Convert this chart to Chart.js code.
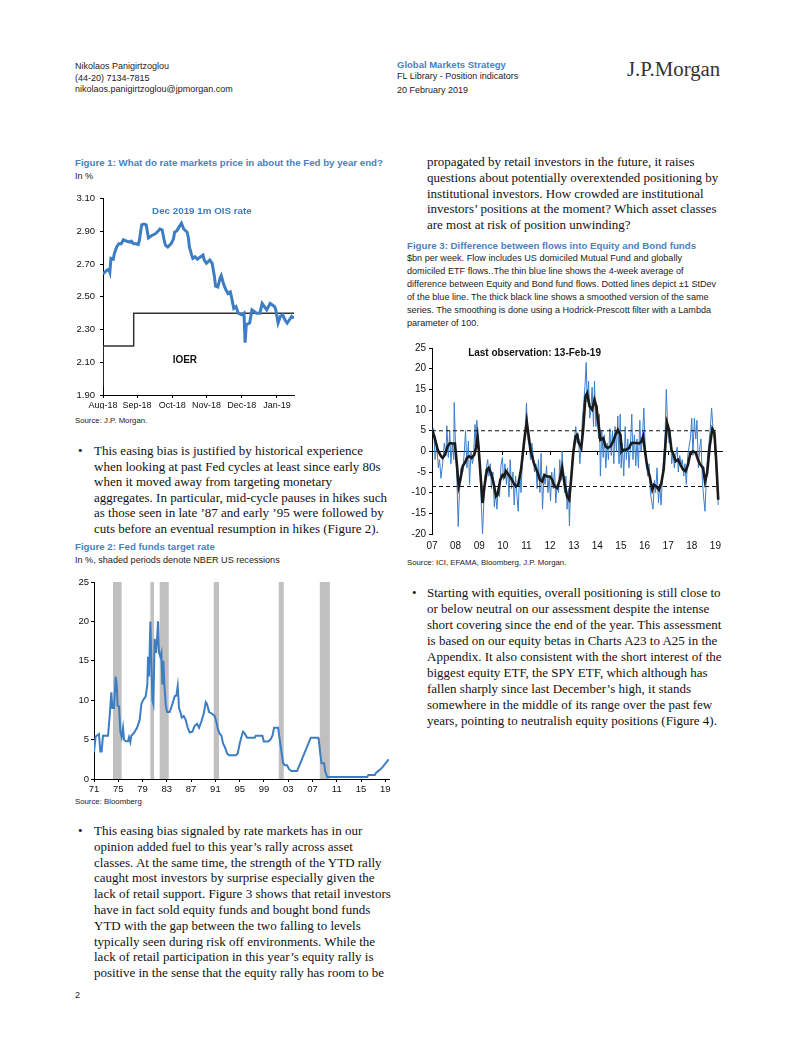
<!DOCTYPE html>
<html>
<head>
<meta charset="utf-8">
<script src="https://cdn.jsdelivr.net/npm/chart.js@4.4.1/dist/chart.umd.min.js"></script>
<style>
body{margin:0;background:#fff;width:802px;height:1037px;position:relative;overflow:hidden;}
.t{position:absolute;white-space:nowrap;}
.hd{font-family:"Liberation Sans",Arial,sans-serif;font-size:9px;line-height:11.5px;color:#222;}
.ttl{font-family:"Liberation Sans",Arial,sans-serif;font-weight:bold;font-size:9.7px;line-height:13px;color:#4b81bf;}
.sub{font-family:"Liberation Sans",Arial,sans-serif;font-size:9.1px;line-height:13.1px;color:#222;}
.src{font-family:"Liberation Sans",Arial,sans-serif;font-size:7.8px;line-height:10px;color:#222;}
.body{font-family:"Liberation Serif","Times New Roman",serif;font-size:13px;line-height:15.8px;color:#111;}
canvas{position:absolute;}
</style>
</head>
<body>
<div class="t hd" style="left:75px;top:61px;">Nikolaos Panigirtzoglou<br>(44-20) 7134-7815<br>nikolaos.panigirtzoglou@jpmorgan.com</div>
<div class="t ttl" style="left:397px;top:58px;font-size:9.5px;">Global Markets Strategy</div>
<div class="t hd" style="left:397px;top:71px;">FL Library - Position indicators</div>
<div class="t hd" style="left:397px;top:85px;">20 February 2019</div>
<div class="t" style="left:627px;top:57px;font-family:'Liberation Serif',serif;font-size:20.8px;color:#333;">J.P.Morgan</div>

<div class="t ttl" style="left:75px;top:156px;">Figure 1: What do rate markets price in about the Fed by year end?</div>
<div class="t sub" style="left:75px;top:170px;">In %</div>
<canvas id="fig1" width="250" height="225" style="left:60px;top:188px;"></canvas>
<div class="t src" style="left:75px;top:416px;">Source: J.P. Morgan.</div>

<div class="t body" style="left:78px;top:443px;line-height:15.5px;">•</div>
<div class="t body" style="left:94px;top:443px;line-height:15.5px;">This easing bias is justified by historical experience<br>when looking at past Fed cycles at least since early 80s<br>when it moved away from targeting monetary<br>aggregates. In particular, mid-cycle pauses in hikes such<br>as those seen in late ’87 and early ’95 were followed by<br>cuts before an eventual resumption in hikes (Figure 2).</div>

<div class="t ttl" style="left:75px;top:540px;">Figure 2: Fed funds target rate</div>
<div class="t sub" style="left:75px;top:554px;">In %, shaded periods denote NBER US recessions</div>
<canvas id="fig2" width="340" height="223" style="left:60px;top:572px;"></canvas>
<div class="t src" style="left:75px;top:797px;">Source: Bloomberg</div>

<div class="t body" style="left:78px;top:823px;">•</div>
<div class="t body" style="left:94px;top:823px;">This easing bias signaled by rate markets has in our<br>opinion added fuel to this year’s rally across asset<br>classes. At the same time, the strength of the YTD rally<br>caught most investors by surprise especially given the<br>lack of retail support. Figure 3 shows that retail investors<br>have in fact sold equity funds and bought bond funds<br>YTD with the gap between the two falling to levels<br>typically seen during risk off environments. While the<br>lack of retail participation in this year’s equity rally is<br>positive in the sense that the equity rally has room to be</div>
<div class="t hd" style="left:75px;top:990px;">2</div>

<div class="t body" style="left:427px;top:154px;">propagated by retail investors in the future, it raises<br>questions about potentially overextended positioning by<br>institutional investors. How crowded are institutional<br>investors’ positions at the moment? Which asset classes<br>are most at risk of position unwinding?</div>

<div class="t ttl" style="left:407px;top:239px;">Figure 3: Difference between flows into Equity and Bond funds</div>
<div class="t sub" style="left:407px;top:252px;">$bn per week. Flow includes US domiciled Mutual Fund and globally<br>domiciled ETF flows..The thin blue line shows the 4-week average of<br>difference between Equity and Bond fund flows. Dotted lines depict ±1 StDev<br>of the blue line. The thick black line shows a smoothed version of the same<br>series. The smoothing is done using a Hodrick-Prescott filter with a Lambda<br>parameter of 100.</div>
<canvas id="fig3" width="330" height="216" style="left:400px;top:338px;"></canvas>
<div class="t src" style="left:407px;top:558px;">Source: ICI, EFAMA, Bloomberg, J.P. Morgan.</div>

<div class="t body" style="left:412px;top:585px;line-height:16px;">•</div>
<div class="t body" style="left:427px;top:585px;line-height:16px;">Starting with equities, overall positioning is still close to<br>or below neutral on our assessment despite the intense<br>short covering since the end of the year. This assessment<br>is based on our equity betas in Charts A23 to A25 in the<br>Appendix. It also consistent with the short interest of the<br>biggest equity ETF, the SPY ETF, which although has<br>fallen sharply since last December’s high, it stands<br>somewhere in the middle of its range over the past few<br>years, pointing to neutralish equity positions (Figure 4).</div>

<script>
// ---- Figure 1: Dec 2019 1m OIS rate vs IOER (days counted from 31-Aug-18)
const oisDay = [0, 3, 5, 6, 7, 9, 10, 12, 14, 16, 18, 21, 24, 25, 27, 29, 31, 32, 34, 36, 38, 40, 43, 46, 49, 50, 52, 54, 55, 57, 60, 62, 63, 65, 68, 69, 71, 74, 75, 76, 78, 79, 81, 83, 85, 88, 89, 91, 94, 96, 98, 99, 101, 103, 104, 106, 108, 110, 112, 113, 115, 117, 119, 122, 124, 125, 126, 129, 131, 133, 135, 138, 140, 142, 144, 147, 149, 151, 152, 154, 156, 158, 160, 162, 164, 166, 168];
const oisRate = [2.64, 2.66, 2.67, 2.65, 2.735, 2.73, 2.765, 2.805, 2.825, 2.825, 2.85, 2.84, 2.835, 2.84, 2.825, 2.825, 2.82, 2.845, 2.94, 2.945, 2.94, 2.86, 2.875, 2.885, 2.905, 2.915, 2.91, 2.84, 2.815, 2.805, 2.825, 2.855, 2.895, 2.905, 2.94, 2.95, 2.915, 2.895, 2.865, 2.805, 2.755, 2.735, 2.745, 2.73, 2.74, 2.755, 2.725, 2.705, 2.725, 2.705, 2.625, 2.565, 2.56, 2.615, 2.63, 2.58, 2.545, 2.52, 2.53, 2.50, 2.43, 2.44, 2.40, 2.39, 2.40, 2.22, 2.33, 2.34, 2.42, 2.41, 2.40, 2.40, 2.46, 2.44, 2.42, 2.46, 2.45, 2.44, 2.42, 2.34, 2.38, 2.39, 2.36, 2.34, 2.36, 2.38, 2.37];
const ioerDay = [0, 27, 111, 168];
const ioerRate = [1.95, 2.20, 2.40, 2.40];
const fig1MonthDays = [0, 30, 61, 91, 122, 153];
const fig1MonthLabels = ['Aug-18', 'Sep-18', 'Oct-18', 'Nov-18', 'Dec-18', 'Jan-19'];
const fig1YTicks = [1.90, 2.10, 2.30, 2.50, 2.70, 2.90, 3.10];

// ---- Figure 2: Fed funds target rate and NBER recessions
const ffYear = [1971.00, 1971.27, 1971.82, 1972.04, 1972.26, 1972.48, 1973.31, 1973.58, 1973.86, 1974.02, 1974.30, 1974.57, 1974.74, 1974.90, 1975.12, 1975.34, 1975.56, 1975.78, 1975.95, 1976.22, 1976.60, 1976.77, 1976.99, 1977.15, 1977.54, 1978.09, 1978.53, 1978.80, 1979.08, 1979.52, 1979.79, 1979.90, 1980.07, 1980.29, 1980.45, 1980.62, 1980.78, 1981.00, 1981.22, 1981.38, 1981.55, 1981.71, 1981.93, 1982.10, 1982.26, 1982.43, 1982.59, 1982.81, 1983.03, 1983.47, 1983.91, 1984.30, 1984.57, 1984.79, 1985.01, 1985.23, 1985.45, 1985.78, 1986.11, 1986.44, 1986.77, 1987.21, 1987.59, 1987.98, 1988.31, 1988.69, 1989.08, 1989.41, 1989.63, 1989.96, 1990.51, 1990.89, 1991.16, 1991.44, 1991.71, 1991.99, 1992.26, 1992.59, 1992.92, 1993.25, 1994.35, 1994.68, 1995.01, 1995.34, 1995.56, 1995.84, 1996.22, 1997.48, 1997.65, 1998.75, 1998.97, 1999.68, 2000.07, 2000.40, 2000.67, 2001.33, 2001.60, 2001.88, 2002.15, 2002.43, 2002.81, 2003.14, 2003.53, 2004.46, 2006.71, 2007.92, 2008.03, 2008.31, 2008.48, 2008.92, 2009.08, 2009.41, 2016.00, 2016.22, 2017.26, 2017.43, 2017.81, 2018.20, 2018.53, 2018.80, 2019.02, 2019.29, 2019.56];
const ffRate = [3.4, 5.4, 5.7, 3.5, 3.5, 5.5, 5.5, 8, 11, 9, 9, 13, 12, 9.3, 9.2, 6, 5.3, 6.5, 5, 4.8, 4.8, 5.3, 4.7, 5.5, 5.8, 6.5, 7.5, 9.5, 10, 10.5, 12, 15.5, 13, 20, 15, 10, 9.5, 17.8, 16, 17.5, 20, 16, 15.5, 16, 12, 15, 12, 9.5, 8.5, 8.5, 9.5, 10.5, 10.6, 11.8, 9, 8.5, 7.8, 8, 7.5, 6.5, 5.9, 6, 6.75, 7, 6.5, 7.3, 8.3, 9.75, 9.5, 8.5, 8.25, 8, 7.25, 6.25, 5.75, 5.5, 4.5, 4, 3.25, 3, 3, 3.25, 4.5, 5.5, 6, 5.75, 5.25, 5.25, 5.5, 5.5, 4.75, 4.75, 5, 5.5, 6.5, 6.5, 5, 3.5, 2, 1.75, 1.75, 1.25, 1, 1, 5.25, 5.25, 5.0, 3.0, 2.0, 2.0, 1.0, 0.25, 0.25, 0.5, 0.5, 0.75, 1.0, 1.25, 1.5, 1.75, 2.0, 2.25, 2.5];
const recessionStart = [1974.13, 1980.29, 1981.82, 1990.73, 2001.44, 2008.20];
const recessionEnd = [1975.56, 1980.89, 1983.31, 1991.60, 2002.26, 2009.85];
const fig2YearTicks = [1971, 1975, 1979, 1983, 1987, 1991, 1995, 1999, 2003, 2007, 2011, 2015, 2019];
const fig2YearLabels = ['71', '75', '79', '83', '87', '91', '95', '99', '03', '07', '11', '15', '19'];
const fig2YTicks = [0, 5, 10, 15, 20, 25];

// ---- Figure 3: equity minus bond fund flows, $bn per week
const flowYear = [2007.00, 2007.07, 2007.13, 2007.20, 2007.27, 2007.32, 2007.38, 2007.45, 2007.52, 2007.59, 2007.63, 2007.69, 2007.75, 2007.80, 2007.86, 2007.92, 2007.94, 2008.00, 2008.06, 2008.11, 2008.16, 2008.23, 2008.30, 2008.37, 2008.42, 2008.48, 2008.54, 2008.59, 2008.65, 2008.71, 2008.76, 2008.82, 2008.86, 2008.90, 2008.96, 2009.02, 2009.07, 2009.14, 2009.19, 2009.24, 2009.30, 2009.36, 2009.41, 2009.47, 2009.52, 2009.58, 2009.64, 2009.69, 2009.75, 2009.81, 2009.86, 2009.92, 2009.98, 2010.03, 2010.09, 2010.15, 2010.20, 2010.26, 2010.31, 2010.37, 2010.43, 2010.48, 2010.54, 2010.60, 2010.65, 2010.71, 2010.77, 2010.82, 2010.88, 2010.94, 2010.97, 2011.00, 2011.06, 2011.12, 2011.17, 2011.23, 2011.28, 2011.34, 2011.40, 2011.45, 2011.51, 2011.57, 2011.62, 2011.68, 2011.74, 2011.79, 2011.85, 2011.91, 2011.96, 2012.02, 2012.07, 2012.13, 2012.19, 2012.24, 2012.30, 2012.36, 2012.41, 2012.47, 2012.51, 2012.55, 2012.61, 2012.67, 2012.72, 2012.78, 2012.82, 2012.86, 2012.92, 2012.98, 2013.03, 2013.09, 2013.15, 2013.20, 2013.26, 2013.32, 2013.37, 2013.43, 2013.48, 2013.53, 2013.57, 2013.63, 2013.68, 2013.72, 2013.78, 2013.84, 2013.88, 2013.94, 2014.00, 2014.05, 2014.09, 2014.13, 2014.19, 2014.25, 2014.30, 2014.36, 2014.42, 2014.47, 2014.53, 2014.59, 2014.64, 2014.70, 2014.75, 2014.81, 2014.87, 2014.92, 2014.97, 2015.01, 2015.06, 2015.12, 2015.18, 2015.23, 2015.29, 2015.34, 2015.40, 2015.46, 2015.51, 2015.57, 2015.63, 2015.68, 2015.74, 2015.80, 2015.85, 2015.91, 2015.97, 2016.02, 2016.08, 2016.13, 2016.19, 2016.25, 2016.30, 2016.36, 2016.42, 2016.47, 2016.53, 2016.59, 2016.64, 2016.70, 2016.76, 2016.81, 2016.87, 2016.92, 2016.98, 2017.04, 2017.09, 2017.15, 2017.21, 2017.26, 2017.32, 2017.38, 2017.43, 2017.49, 2017.55, 2017.60, 2017.66, 2017.71, 2017.77, 2017.83, 2017.88, 2017.94, 2018.00, 2018.05, 2018.11, 2018.17, 2018.22, 2018.28, 2018.34, 2018.39, 2018.45, 2018.50, 2018.56, 2018.62, 2018.67, 2018.73, 2018.79, 2018.84, 2018.90, 2018.96, 2019.01, 2019.07, 2019.12];
const flowValue = [5.2, 5.5, -2, 1.5, -4, -2, -6.5, -3, 2, -1, 6.2, -1.5, 5, -3, 2, -2, 11.8, 1, -8, -18.2, -10, -4, -5, 0, 5, -4, 2.5, -8, 0, -3, -1.5, 6.5, 2, 7.5, 1, -3, -10, -20, -13, -6, -4, -2, -6, -3, -9, -5, -13.5, -10, -14, -8, -11, -3.5, -1.5, -7, -3, -8, -4, -11, -2, -9, -5, -13, -6, -11, -14.5, -5, -10, -3, 0, 4, 8, 11.7, 3, 1.5, -2, 2, -1, -5, -3, -9, -2, -10, -0.5, -14, -6, -8, -3.5, -10, -6, -12, -5, -9, -4, -12.5, -8, -10, -2, -7, 0, -5, -10, -6, -14, -9, -18, -10, -3, 0, 3, 6, 2, 4, -3, 2, 8, 12, 16, 21.5, 12, 17, 8, 9.5, 15.5, 6, 17, 6, 11, 3, 9, -6, 5, -1.5, 4, -4, 2, -2, 5.5, -1, 5, -3, 6, 0, 8.5, -3, 9, -4, 2, -6, 6, -2, 3, -4, 1, 9, -2, 4, -3.5, 3, -4, 7.5, 0, 3, 10.5, 2, -2, -6, -3, -10, -12, -14, -7, -10, -4, -12.5, -8, -13, -6, -2, 4, 15, 6, 2, 4.5, -3, 0, -4, -1, 1, -5, -1, -3, -2, -6, -3, -8, -1, 1, 3, 8, -1, 8, 3, 7.5, -4, 1, 3, -7, -11, -14.5, -6, -1, 2, 6, 10.5, 5.5, 3, -2, -8, -13];
const hpYear = [2007.00, 2007.10, 2007.24, 2007.38, 2007.45, 2007.55, 2007.66, 2007.76, 2007.87, 2007.97, 2008.06, 2008.13, 2008.20, 2008.30, 2008.40, 2008.48, 2008.58, 2008.68, 2008.79, 2008.86, 2008.93, 2008.97, 2009.05, 2009.14, 2009.24, 2009.33, 2009.40, 2009.50, 2009.61, 2009.71, 2009.78, 2009.89, 2009.99, 2010.06, 2010.13, 2010.20, 2010.34, 2010.46, 2010.55, 2010.65, 2010.77, 2010.91, 2011.01, 2011.06, 2011.17, 2011.31, 2011.45, 2011.57, 2011.67, 2011.76, 2011.88, 2011.99, 2012.09, 2012.19, 2012.30, 2012.41, 2012.51, 2012.61, 2012.72, 2012.81, 2012.89, 2012.98, 2013.08, 2013.15, 2013.22, 2013.32, 2013.40, 2013.50, 2013.57, 2013.67, 2013.78, 2013.88, 2013.96, 2014.06, 2014.13, 2014.25, 2014.35, 2014.44, 2014.56, 2014.67, 2014.77, 2014.87, 2014.98, 2015.04, 2015.12, 2015.23, 2015.34, 2015.44, 2015.54, 2015.66, 2015.77, 2015.87, 2015.94, 2016.01, 2016.11, 2016.22, 2016.33, 2016.40, 2016.50, 2016.61, 2016.71, 2016.81, 2016.90, 2016.95, 2017.04, 2017.14, 2017.23, 2017.32, 2017.42, 2017.52, 2017.63, 2017.74, 2017.84, 2017.94, 2018.05, 2018.17, 2018.26, 2018.36, 2018.48, 2018.56, 2018.65, 2018.76, 2018.87, 2018.96, 2019.04, 2019.12];
const hpValue = [5.2, 3.6, 0.4, -1.2, -1.6, -0.8, 1.2, 2.0, 1.9, 1.9, -3.6, -8.5, -6.9, -3.6, -2.7, -1.6, -1.2, -1.6, -0.8, 0.8, 3.6, 1.2, -5.3, -12.5, -7.7, -4.4, -4.0, -5.3, -7.7, -10.9, -10.5, -6.9, -5.7, -6.1, -4.8, -5.3, -6.5, -7.7, -8.5, -8.1, -4.4, 2.8, 7.3, 5.2, 0.4, -2.8, -4.8, -6.9, -7.3, -5.7, -6.1, -6.1, -6.9, -8.5, -8.9, -6.9, -4.0, -7.7, -10.9, -11.7, -6.9, -0.4, 3.6, 4.0, 2.0, 0.8, 5.2, 13.3, 14.1, 10.9, 10.1, 12.5, 10.9, 6.1, 2.8, 3.2, 1.2, 0.8, 1.2, 2.4, 4.0, 5.2, 4.0, 0.0, 0.4, 0.4, 0.8, 2.0, 2.0, 2.0, 1.9, 2.4, 3.6, 0.4, -3.6, -6.1, -9.3, -8.1, -8.5, -9.3, -7.7, -4.4, 2.8, 6.9, 5.2, 0.4, -0.8, -2.4, -2.0, -3.2, -4.4, -4.8, -3.2, -0.4, 0.0, -0.4, -2.0, -3.2, -4.0, -7.3, -5.3, 1.2, 5.4, 4.4, -2.8, -11.7];
const stdevUpper = 4.97;
const stdevLower = -8.52;
const fig3YearTicks = [2007, 2008, 2009, 2010, 2011, 2012, 2013, 2014, 2015, 2016, 2017, 2018, 2019];
const fig3YearLabels = ['07', '08', '09', '10', '11', '12', '13', '14', '15', '16', '17', '18', '19'];
const fig3YTicks = [-20, -15, -10, -5, 0, 5, 10, 15, 20, 25];

const FONT = '"Liberation Sans", Arial, sans-serif';
const BLUE = '#3d7dc3';
Chart.defaults.font.family = FONT;
Chart.defaults.font.size = 10;
Chart.defaults.color = '#111';

function points(xs, ys) {
    return xs.map((x, i) => ({ x: x, y: ys[i] }));
}

function fixedTicks(values) {
    return scale => { scale.ticks = values.map(v => ({ value: v })); };
}

// text written at data coordinates
const textNotes = {
    id: 'textNotes',
    afterDatasetsDraw(chart, args, opts) {
        const ctx = chart.ctx;
        (opts.items || []).forEach(it => {
            ctx.save();
            ctx.font = it.font;
            ctx.fillStyle = it.color;
            ctx.textAlign = it.align || 'center';
            ctx.textBaseline = 'middle';
            ctx.fillText(it.text, chart.scales.x.getPixelForValue(it.x), chart.scales.y.getPixelForValue(it.y));
            ctx.restore();
        });
    }
};

// grey recession bars
const shading = {
    id: 'shading',
    beforeDatasetsDraw(chart, args, opts) {
        if (!opts.starts) return;
        const { ctx, scales: { x, y } } = chart;
        const top = y.getPixelForValue(y.max);
        const bottom = y.getPixelForValue(y.min);
        ctx.save();
        ctx.fillStyle = opts.color;
        opts.starts.forEach((s, i) => {
            const x1 = x.getPixelForValue(s);
            const x2 = x.getPixelForValue(opts.ends[i]);
            ctx.fillRect(x1, top, x2 - x1, bottom - top);
        });
        ctx.restore();
    }
};

function axis(min, max, ticks, labelFn, size, pad, fontSize) {
    return {
        type: 'linear', min: min, max: max,
        afterBuildTicks: fixedTicks(ticks),
        grid: { drawOnChartArea: false, tickLength: 3, color: '#000' },
        border: { color: '#000', width: 1 },
        ticks: { padding: pad, maxRotation: 0, autoSkip: false, callback: labelFn, font: { size: fontSize || 10 } },
        afterFit: size
    };
}

const baseOptions = {
    responsive: false,
    animation: false,
    plugins: { legend: { display: false }, tooltip: { enabled: false } },
    elements: { point: { radius: 0 }, line: { tension: 0 } }
};

// Figure 1
new Chart(document.getElementById('fig1'), {
    type: 'line',
    data: {
        datasets: [
            { data: points(oisDay, oisRate), borderColor: BLUE, borderWidth: 3, order: 0 },
            { data: points(ioerDay, ioerRate), borderColor: '#333', borderWidth: 1.5, stepped: 'after', order: 1 }
        ]
    },
    options: Object.assign({}, baseOptions, {
        layout: { padding: { left: 0, top: 10, right: 16, bottom: 4 } },
        scales: {
            x: axis(0, 168, fig1MonthDays, v => fig1MonthLabels[fig1MonthDays.indexOf(v)], s => { s.height = 14; }, 2, 9),
            y: axis(1.9, 3.1, fig1YTicks, v => v.toFixed(2), s => { s.width = 43; }, 5, 9.5)
        },
        plugins: Object.assign({}, baseOptions.plugins, {
            textNotes: { items: [
                { text: 'Dec 2019 1m OIS rate', x: 87, y: 3.02, font: 'bold 9.8px ' + FONT, color: BLUE },
                { text: 'IOER', x: 72, y: 2.11, font: 'bold 10px ' + FONT, color: '#111' }
            ] }
        })
    }),
    plugins: [textNotes]
});

// Figure 2
new Chart(document.getElementById('fig2'), {
    type: 'line',
    data: {
        datasets: [
            { data: points(ffYear, ffRate), borderColor: BLUE, borderWidth: 2 }
        ]
    },
    options: Object.assign({}, baseOptions, {
        layout: { padding: { left: 0, top: 10, right: 11, bottom: 2 } },
        scales: {
            x: axis(1971, 2019.6, fig2YearTicks, v => fig2YearLabels[fig2YearTicks.indexOf(v)], s => { s.height = 14; }, 2, 9.5),
            y: axis(0, 25, fig2YTicks, v => String(v), s => { s.width = 34; }, 2, 9.5)
        },
        plugins: Object.assign({}, baseOptions.plugins, {
            shading: { starts: recessionStart, ends: recessionEnd, color: '#c0c0c0' }
        })
    }),
    plugins: [shading]
});

// Figure 3: labels along the bottom, axis line with tick marks along zero
const fig3Span = [flowYear[0], flowYear[flowYear.length - 1]];
const x3 = axis(2007, 2019.28, fig3YearTicks, v => fig3YearLabels[fig3YearTicks.indexOf(v)], s => { s.height = 18; }, 6, 10);
x3.grid = { display: false, drawTicks: false };
x3.border = { display: false };
const x3zero = axis(2007, 2019.28, fig3YearTicks, v => '', null, 0);
x3zero.position = { y: 0 };
x3zero.ticks = { display: false };
delete x3zero.afterFit;

new Chart(document.getElementById('fig3'), {
    type: 'line',
    data: {
        datasets: [
            { data: points(flowYear, flowValue), borderColor: '#3b7fca', borderWidth: 1, order: 3 },
            { data: points(hpYear, hpValue), borderColor: '#1a1a1a', borderWidth: 2.6, order: 0 },
            { data: points(fig3Span, [stdevUpper, stdevUpper]), borderColor: '#111', borderWidth: 1.1, borderDash: [4, 3], order: 1 },
            { data: points(fig3Span, [stdevLower, stdevLower]), borderColor: '#111', borderWidth: 1.1, borderDash: [4, 3], order: 1 }
        ]
    },
    options: Object.assign({}, baseOptions, {
        layout: { padding: { left: 0, top: 10, right: 8, bottom: 2 } },
        scales: {
            x: x3,
            x0: x3zero,
            y: axis(-20, 25, fig3YTicks, v => String(v), s => { s.width = 32; }, 3, 10)
        },
        plugins: Object.assign({}, baseOptions.plugins, {
            textNotes: { items: [
                { text: 'Last observation: 13-Feb-19', x: 2008.53, y: 23.8, font: 'bold 10px ' + FONT, color: '#111', align: 'left' }
            ] }
        })
    }),
    plugins: [textNotes]
});
</script>
</body>
</html>
